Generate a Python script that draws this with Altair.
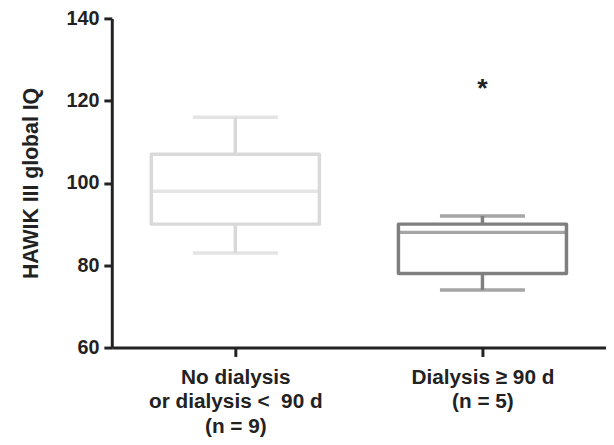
import altair as alt
import pandas as pd

groups = ["No dialysis|or dialysis <\u00a0 90 d|(n = 9)", "Dialysis ≥ 90 d|(n = 5)"]
lower = [83, 74]
q1 = [90, 78]
median = [98, 88]
q3 = [107, 90]
upper = [116, 92]
colors = ["#d9d9d9", "#7f7f80"]
y_ticks = [60, 80, 100, 120, 140]
star_group = ["Dialysis ≥ 90 d|(n = 5)"]
star_value = [121]

df = pd.DataFrame({"group": groups, "lower": lower, "q1": q1, "median": median,
                   "q3": q3, "upper": upper})
star_df = pd.DataFrame({"group": star_group, "v": star_value, "t": ["*"]})

FONT = "Liberation Sans"
SW = 3.5

x = alt.X("group:N", sort=groups, scale=alt.Scale(type="point", padding=0.5),
          axis=alt.Axis(title=None, labelAngle=0, labelExpr="split(datum.label, '|')",
                        labelFont=FONT, labelFontSize=21, labelFontWeight="bold",
                        labelColor="#222", labelLineHeight=25, labelPadding=10,
                        labelBaseline="top",
                        tickSize=9, tickWidth=3, tickColor="#222",
                        domainWidth=3, domainColor="#222"))
yscale = alt.Scale(domain=[60, 140], nice=False, zero=False)
yaxis = alt.Axis(title="HAWIK III global IQ", values=y_ticks, grid=False,
                 labelFont=FONT, labelFontSize=20, labelFontWeight="bold",
                 labelColor="#222", labelPadding=5,
                 titleFont=FONT, titleFontSize=21.5, titleFontWeight="bold",
                 titleColor="#222", titlePadding=24,
                 tickSize=8, tickWidth=3, tickColor="#222",
                 domainWidth=3, domainColor="#222")
color = alt.Color("group:N", scale=alt.Scale(domain=groups, range=colors), legend=None)

base = alt.Chart(df)

upper_rule = base.mark_rule(strokeWidth=SW).encode(
    x=x, y=alt.Y("q3:Q", scale=yscale, axis=yaxis), y2="upper:Q", color=color)
lower_rule = base.mark_rule(strokeWidth=SW).encode(
    x=x, y=alt.Y("lower:Q", scale=yscale), y2="q1:Q", color=color)
box = base.mark_bar(width=170, fillOpacity=0, strokeWidth=SW, strokeJoin="round").encode(
    x=x, y=alt.Y("q1:Q", scale=yscale), y2="q3:Q", stroke=color)
med = base.mark_tick(size=170, thickness=SW).encode(
    x=x, y=alt.Y("median:Q", scale=yscale), color=color)
cap_hi = base.mark_tick(size=86, thickness=SW).encode(
    x=x, y=alt.Y("upper:Q", scale=yscale), color=color)
cap_lo = base.mark_tick(size=86, thickness=SW).encode(
    x=x, y=alt.Y("lower:Q", scale=yscale), color=color)
star = alt.Chart(star_df).mark_text(font=FONT, fontSize=27, fontWeight="bold",
                                    color="#222", baseline="alphabetic").encode(
    x=x, y=alt.Y("v:Q", scale=yscale), text="t:N")

chart = alt.layer(upper_rule, lower_rule, box, med, cap_hi, cap_lo, star).properties(
    width=500, height=333,
    autosize=alt.AutoSizeParams(type="none"),
    padding={"left": 105, "top": 8, "right": 0, "bottom": 92},
).configure_view(stroke=None)

chart.save("out.html", embed_options={"renderer": "svg", "actions": False})
